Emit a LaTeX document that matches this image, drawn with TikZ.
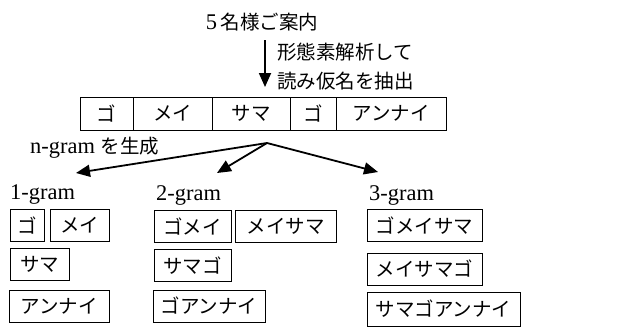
\documentclass[tikz,border=0pt]{standalone}
\usepackage{fontspec}
\setmainfont[Scale=1.15]{Liberation Serif}
\newfontfamily\jp{Noto Sans CJK JP}
\usetikzlibrary{arrows.meta}
\begin{document}
\begin{tikzpicture}[x=1pt,y=-1pt,
  every node/.style={font=\fontsize{19.5}{22}\selectfont, inner sep=0pt},
  cell/.style={draw, line width=1pt, minimum height=33pt},
  gbox/.style={draw, line width=1pt, minimum height=32pt},
  lbl/.style={anchor=west},
  arr/.style={line width=1.8pt, -{Triangle[length=14pt,width=12pt]}},
]
\useasboundingbox (0,0) rectangle (632,327);
% title
\node (title) at (262,22) {5\,{\jp 名様ご案内}};
\coordinate (ds) at (265,40);
\coordinate (de) at (265,87);
\draw[arr] (ds) -- (de);
\node[lbl] (m1) at (277,52) {\jp 形態素解析して};
\node[lbl] (m2) at (277,81) {\jp 読み仮名を抽出};
% sequence
\node[cell, minimum width=53pt] (s1) at (106.5,113.5) {\jp ゴ};
\node[cell, minimum width=79pt] (s2) at (172.5,113.5) {\jp メイ};
\node[cell, minimum width=78pt] (s3) at (251,113.5) {\jp サマ};
\node[cell, minimum width=46pt] (s4) at (313,113.5) {\jp ゴ};
\node[cell, minimum width=110pt] (s5) at (391,113.5) {\jp アンナイ};
\node[lbl] (gen) at (30,148) {n-gram {\jp を生成}};
\coordinate (src) at (267,143);
\coordinate (t1) at (76,173);
\coordinate (t2) at (217,173);
\coordinate (t3) at (378,172);
\draw[arr] (src) -- (t1);
\draw[arr] (src) -- (t2);
\draw[arr] (src) -- (t3);
% headings
\node[lbl] (h1) at (10,195) {1-gram};
\node[lbl] (h2) at (156,195) {2-gram};
\node[lbl] (h3) at (369,195) {3-gram};
% 1-gram
\node[gbox, minimum width=34pt] (a1) at (27,225.5) {\jp ゴ};
\node[gbox, minimum width=59pt] (a2) at (79.5,225.5) {\jp メイ};
\node[gbox, minimum width=59pt] (a3) at (39.5,264) {\jp サマ};
\node[gbox, minimum width=100pt] (a4) at (59,306.5) {\jp アンナイ};
% 2-gram
\node[gbox, minimum width=77pt] (b1) at (192.5,226.5) {\jp ゴメイ};
\node[gbox, minimum width=101pt] (b2) at (285.5,226.5) {\jp メイサマ};
\node[gbox, minimum width=77pt] (b3) at (192.5,265.5) {\jp サマゴ};
\node[gbox, minimum width=112pt] (b4) at (209,306) {\jp ゴアンナイ};
% 3-gram
\node[gbox, minimum width=115pt] (c1) at (424.5,225.5) {\jp ゴメイサマ};
\node[gbox, minimum width=115pt] (c2) at (424.5,269) {\jp メイサマゴ};
\node[gbox, minimum width=153pt, minimum height=34pt] (c3) at (443.5,309) {\jp サマゴアンナイ};
\end{tikzpicture}
\end{document}
